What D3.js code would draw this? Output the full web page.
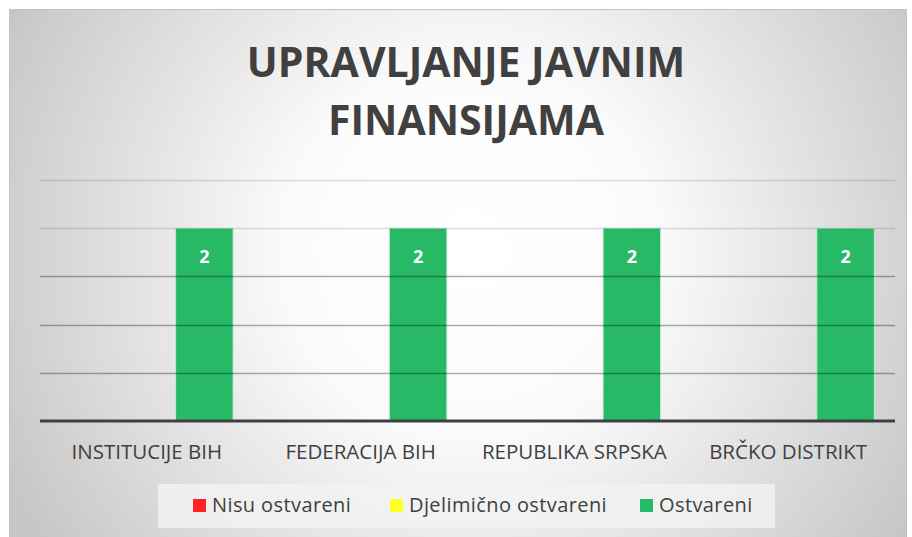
<!DOCTYPE html>
<html>
<head>
  <meta charset="utf-8">
  <title>Upravljanje javnim finansijama</title>
  <script src="https://cdn.jsdelivr.net/npm/d3@7"></script>
  <style>
    body { margin: 0; background: #fff; }
    .title { font: bold 41px "Open Sans", sans-serif; fill: #404040; }
    .cat { font: 20.5px "Open Sans", sans-serif; fill: #404040; }
    .legend text { font: 20px "Open Sans", sans-serif; fill: #404040; letter-spacing: 0.4px; }
    .val { font: bold 18px "Open Sans", sans-serif; fill: #fff; }
  </style>
</head>
<body>
<svg></svg>
<script>

// data
var categories = ["INSTITUCIJE BIH", "FEDERACIJA BIH", "REPUBLIKA SRPSKA", "BRČKO DISTRIKT"];
var seriesNames = ["Nisu ostvareni", "Djelimično ostvareni", "Ostvareni"];
var nisuOstvareni = [0, 0, 0, 0];
var djelimicnoOstvareni = [0, 0, 0, 0];
var ostvareni = [2, 2, 2, 2];
var yTicks = [0, 0.5, 1, 1.5, 2, 2.5];
var titleLines = ["UPRAVLJANJE JAVNIM", "FINANSIJAMA"];

var seriesValues = [nisuOstvareni, djelimicnoOstvareni, ostvareni];
var colors = ["#ff2222", "#ffff22", "#27b966"];

var width = 912, height = 537;
var svg = d3.select("svg").attr("width", width).attr("height", height);

// background: radial gradient like the office chart style
var defs = svg.append("defs");
var grad = defs.append("radialGradient")
  .attr("id", "bg")
  .attr("gradientUnits", "userSpaceOnUse")
  .attr("cx", 470).attr("cy", 250).attr("r", 520);
grad.append("stop").attr("offset", "0%").attr("stop-color", "#ffffff");
grad.append("stop").attr("offset", "35%").attr("stop-color", "#fbfbfb");
grad.append("stop").attr("offset", "100%").attr("stop-color", "#c6c6c6");

svg.append("rect")
  .attr("x", 9.5).attr("y", 9.5)
  .attr("width", 897).attr("height", 540)
  .attr("fill", "url(#bg)")
  .attr("stroke", "#c4c4c4");

// title
svg.append("g").selectAll("text")
  .data(titleLines)
  .enter().append("text")
    .attr("class", "title")
    .attr("x", 466)
    .attr("y", function(d, i) { return 77 + i * 58; })
    .attr("text-anchor", "middle")
    .text(function(d) { return d; });

// scales
var x0 = d3.scaleBand().domain(d3.range(categories.length)).range([40, 895]);
var x1 = d3.scaleBand().domain(d3.range(seriesNames.length))
  .range([0, x0.bandwidth()])
  .paddingOuter(0.36);
var y = d3.scaleLinear().domain([0, 2.5]).range([421, 180]);

// bars
var cat = svg.append("g").selectAll("g")
  .data(categories)
  .enter().append("g")
    .attr("transform", function(d, i) { return "translate(" + x0(i) + ",0)"; });

cat.selectAll("rect")
  .data(function(d, i) {
    return seriesValues.map(function(s, j) { return { s: j, v: s[i] }; });
  })
  .enter().append("rect")
    .filter(function(d) { return d.v > 0; })
    .attr("x", function(d) { return x1(d.s); })
    .attr("width", x1.bandwidth())
    .attr("y", function(d) { return y(d.v); })
    .attr("height", function(d) { return y(0) - y(d.v); })
    .attr("fill", function(d) { return colors[d.s]; })
    .attr("stroke", "#bfe9cf")
    .attr("stroke-width", 1);

// gridlines (semi transparent, they show over the bars)
svg.append("g").selectAll("line")
  .data(yTicks.slice(1))
  .enter().append("line")
    .attr("x1", 40).attr("x2", 895)
    .attr("y1", function(d) { return Math.round(y(d)) + 0.5; })
    .attr("y2", function(d) { return Math.round(y(d)) + 0.5; })
    .attr("stroke", "#000")
    .attr("stroke-opacity", function(d) { return d >= 2 ? 0.12 : 0.32; })
    .attr("stroke-width", 1.3);

cat.selectAll(".val")
  .data(function(d, i) {
    return seriesValues.map(function(s, j) { return { s: j, v: s[i] }; })
      .filter(function(d) { return d.v > 0; });
  })
  .enter().append("text")
    .attr("class", "val")
    .attr("x", function(d) { return x1(d.s) + x1.bandwidth() / 2; })
    .attr("y", function(d) { return y(d.v) + 35; })
    .attr("text-anchor", "middle")
    .text(function(d) { return d.v; });

// axis line
svg.append("line")
  .attr("x1", 40).attr("x2", 895)
  .attr("y1", 421).attr("y2", 421)
  .attr("stroke", "#404040")
  .attr("stroke-width", 3);

// category labels
svg.append("g").selectAll("text")
  .data(categories)
  .enter().append("text")
    .attr("class", "cat")
    .attr("x", function(d, i) { return x0(i) + x0.bandwidth() / 2; })
    .attr("y", 459)
    .attr("text-anchor", "middle")
    .text(function(d) { return d; });

// legend
var legend = svg.append("g").attr("class", "legend");
legend.append("rect")
  .attr("x", 158).attr("y", 484)
  .attr("width", 617).attr("height", 44)
  .attr("fill", "#f2f2f2")
  .attr("fill-opacity", 0.85);

var legendX = [193, 390, 640];
var item = legend.selectAll("g")
  .data(seriesNames)
  .enter().append("g")
    .attr("transform", function(d, i) { return "translate(" + legendX[i] + ",0)"; });

item.append("rect")
  .attr("x", 0).attr("y", 499)
  .attr("width", 13).attr("height", 13)
  .attr("fill", function(d, i) { return colors[i]; });

item.append("text")
  .attr("x", 19).attr("y", 512)
  .text(function(d) { return d; });

</script>
</body>
</html>
